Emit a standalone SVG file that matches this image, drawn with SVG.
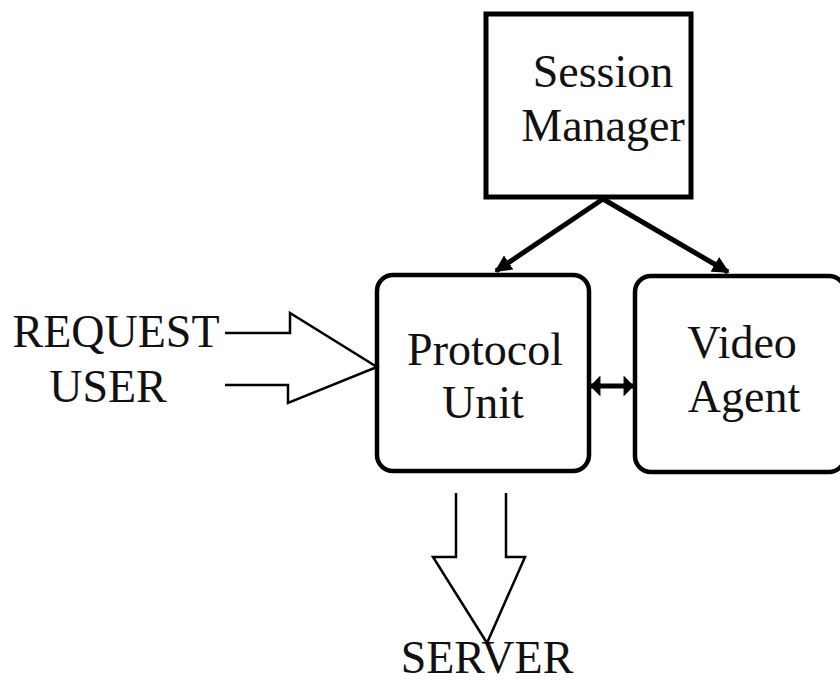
<svg xmlns="http://www.w3.org/2000/svg" width="840" height="682" viewBox="0 0 840 682">
<style>
  .box{fill:#fff;stroke:#000;stroke-width:4.5}
  .t{font-family:"Liberation Serif","Times New Roman",serif;font-size:46px;fill:#111;text-anchor:middle}
  .hollow{fill:#fff;stroke:#000;stroke-width:2.5;stroke-linejoin:miter}
  .thick{stroke:#000;stroke-width:5;fill:none}
</style>
<defs>
  <marker id="ah" viewBox="0 0 10 10" refX="9" refY="5" markerWidth="3.4" markerHeight="3.4" orient="auto-start-reverse" markerUnits="strokeWidth">
    <path d="M0,0 L10,5 L0,10 z" fill="#000"/>
  </marker>
  <marker id="ah2" viewBox="0 0 10 20" refX="9" refY="10" markerWidth="2.2" markerHeight="4.2" orient="auto-start-reverse" markerUnits="strokeWidth">
    <path d="M0,0 L10,10 L0,20 z" fill="#000"/>
  </marker>
</defs>
<rect width="840" height="682" fill="#fff"/>
<g id="session-manager">
  <rect class="box" x="486" y="14" width="205" height="183" style="stroke-width:5"/>
  <text class="t" x="603" y="87">Session</text>
  <text class="t" x="603" y="141">Manager</text>
</g>
<g id="protocol-unit">
  <rect class="box" x="377" y="275" width="212" height="196" rx="16"/>
  <text class="t" x="485" y="365">Protocol</text>
  <text class="t" x="483" y="418">Unit</text>
</g>
<g id="video-agent">
  <rect class="box" x="635" y="276" width="210" height="196" rx="16"/>
  <text class="t" x="742" y="358">Video</text>
  <text class="t" x="744" y="412">Agent</text>
</g>
<g id="labels">
  <text class="t" x="116" y="347">REQUEST</text>
  <text class="t" x="108" y="402">USER</text>
  <text class="t" x="487" y="673">SERVER</text>
</g>
<g id="connectors">
  <line class="thick" x1="603" y1="199" x2="496" y2="271" marker-end="url(#ah)"/>
  <line class="thick" x1="603" y1="199" x2="728" y2="272" marker-end="url(#ah)"/>
  <line class="thick" x1="591" y1="386" x2="633" y2="386" marker-start="url(#ah2)" marker-end="url(#ah2)"/>
  <path class="hollow" d="M225,333 L290,333 L290,313 L377,367 L288,403 L288,385 L225,385"/>
  <path class="hollow" d="M456,493 L456,557 L433,557 L487,643 L525,557 L506,557 L506,493"/>
</g>
</svg>
